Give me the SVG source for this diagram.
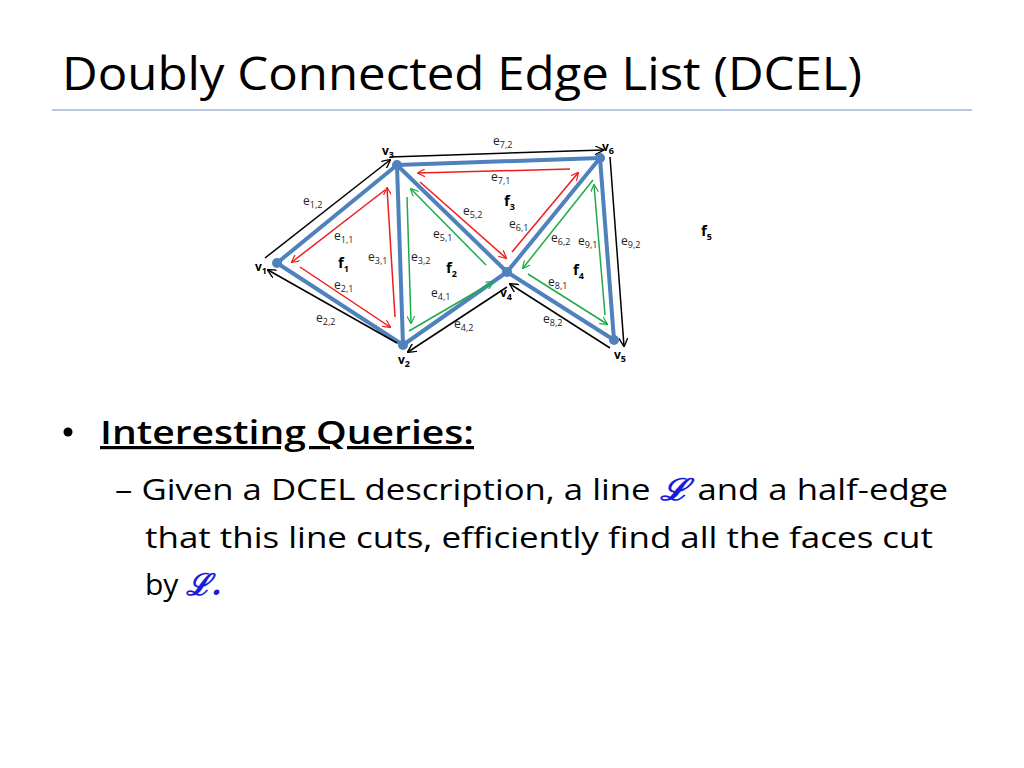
<svg xmlns="http://www.w3.org/2000/svg" width="1024" height="768" viewBox="0 0 1024 768">
<style>
.t{font-family:"Open Sans","Liberation Sans",sans-serif;fill:#000}
.e{font-family:"Open Sans","Liberation Sans",sans-serif;font-size:12px;fill:#222}
.s{font-size:9px}
.f{font-family:"Open Sans","Liberation Sans",sans-serif;font-size:15px;font-weight:bold}
.v{font-family:"Open Sans","Liberation Sans",sans-serif;font-size:12px;font-weight:bold}
.b{stroke:#4f81bd;stroke-width:4;fill:none}
.r{stroke:#ee1c1c;stroke-width:1.5;fill:none;marker-end:url(#ar)}
.g{stroke:#1faa4a;stroke-width:1.5;fill:none;marker-end:url(#ag)}
.k{stroke:#000;stroke-width:1.5;fill:none;marker-end:url(#ak)}
.L{font-family:"DejaVu Serif",serif;font-style:italic;font-weight:bold;fill:#1a1adf}
</style>
<defs>
<marker id="ar" viewBox="0 0 10 10" refX="9" refY="5" markerWidth="8" markerHeight="8" orient="auto" markerUnits="userSpaceOnUse"><path d="M0,0 L10,5 L0,10" fill="none" stroke="#ee1c1c" stroke-width="1.5"/></marker>
<marker id="ag" viewBox="0 0 10 10" refX="9" refY="5" markerWidth="8" markerHeight="8" orient="auto" markerUnits="userSpaceOnUse"><path d="M0,0 L10,5 L0,10" fill="none" stroke="#1faa4a" stroke-width="1.5"/></marker>
<marker id="ak" viewBox="0 0 10 10" refX="9" refY="5" markerWidth="9" markerHeight="9" orient="auto" markerUnits="userSpaceOnUse"><path d="M0,0 L10,5 L0,10" fill="none" stroke="#000" stroke-width="1.5"/></marker>
</defs>
<rect width="1024" height="768" fill="#fff"/>
<text class="t" x="62" y="90" font-size="45" textLength="800" lengthAdjust="spacingAndGlyphs">Doubly Connected Edge List (DCEL)</text>
<line x1="52" y1="110" x2="972" y2="110" stroke="#a3b5d8" stroke-width="1.5"/>
<g id="connectors">
<g id="blue">
<line class="b" x1="277" y1="263" x2="397" y2="165"/>
<line class="b" x1="277" y1="263" x2="403" y2="345"/>
<line class="b" x1="397" y1="165" x2="403" y2="345"/>
<line class="b" x1="397" y1="165" x2="507" y2="272"/>
<line class="b" x1="403" y1="345" x2="507" y2="272"/>
<line class="b" x1="397" y1="165" x2="600" y2="158"/>
<line class="b" x1="507" y1="272" x2="600" y2="158"/>
<line class="b" x1="507" y1="272" x2="614" y2="340"/>
<line class="b" x1="600" y1="158" x2="614" y2="340"/>
</g>
<line class="r" x1="385" y1="190" x2="292" y2="262"/>
<line class="r" x1="300" y1="267" x2="390" y2="327"/>
<line class="r" x1="395" y1="317" x2="387" y2="188"/>
<line class="g" x1="407" y1="197" x2="411" y2="323"/>
<line class="g" x1="409" y1="331" x2="493" y2="282"/>
<line class="g" x1="486" y1="265" x2="411" y2="189"/>
<line class="r" x1="570" y1="169" x2="418" y2="173"/>
<line class="r" x1="420" y1="182" x2="506" y2="258"/>
<line class="r" x1="512" y1="252" x2="578" y2="173"/>
<line class="g" x1="593" y1="180" x2="523" y2="268"/>
<line class="g" x1="528" y1="274" x2="607" y2="324"/>
<line class="g" x1="605" y1="315" x2="594" y2="185"/>
<line class="k" x1="265" y1="258" x2="390" y2="160"/>
<line class="k" x1="390" y1="157" x2="603" y2="150"/>
<line class="k" x1="610" y1="157" x2="624" y2="346"/>
<line class="k" x1="610" y1="348" x2="510" y2="284"/>
<line class="k" x1="507" y1="287" x2="408" y2="352"/>
<line class="k" x1="397" y1="343" x2="268" y2="270"/>
</g>
<g id="v1"><circle cx="277" cy="263" r="5" fill="#4f81bd"/><text class="v" x="255" y="271">v<tspan class="s" dy="3">1</tspan></text></g>
<g id="v2"><circle cx="403" cy="345" r="5" fill="#4f81bd"/><text class="v" x="398" y="364">v<tspan class="s" dy="3">2</tspan></text></g>
<g id="v3"><circle cx="397" cy="165" r="5" fill="#4f81bd"/><text class="v" x="382" y="155">v<tspan class="s" dy="3">3</tspan></text></g>
<g id="v4"><circle cx="507" cy="272" r="5" fill="#4f81bd"/><text class="v" x="500" y="297">v<tspan class="s" dy="3">4</tspan></text></g>
<g id="v5"><circle cx="614" cy="340" r="5" fill="#4f81bd"/><text class="v" x="614" y="359">v<tspan class="s" dy="3">5</tspan></text></g>
<g id="v6"><circle cx="600" cy="158" r="5" fill="#4f81bd"/><text class="v" x="602" y="151">v<tspan class="s" dy="3">6</tspan></text></g>
<g id="labels">
<text class="e" x="303" y="205">e<tspan class="s" dy="3">1,2</tspan></text>
<text class="e" x="334" y="240">e<tspan class="s" dy="3">1,1</tspan></text>
<text class="e" x="368" y="261">e<tspan class="s" dy="3">3,1</tspan></text>
<text class="e" x="411" y="261">e<tspan class="s" dy="3">3,2</tspan></text>
<text class="e" x="334" y="289">e<tspan class="s" dy="3">2,1</tspan></text>
<text class="e" x="316" y="322">e<tspan class="s" dy="3">2,2</tspan></text>
<text class="e" x="433" y="238">e<tspan class="s" dy="3">5,1</tspan></text>
<text class="e" x="463" y="215">e<tspan class="s" dy="3">5,2</tspan></text>
<text class="e" x="431" y="297">e<tspan class="s" dy="3">4,1</tspan></text>
<text class="e" x="454" y="328">e<tspan class="s" dy="3">4,2</tspan></text>
<text class="e" x="493" y="145">e<tspan class="s" dy="3">7,2</tspan></text>
<text class="e" x="491" y="181">e<tspan class="s" dy="3">7,1</tspan></text>
<text class="e" x="509" y="228">e<tspan class="s" dy="3">6,1</tspan></text>
<text class="e" x="551" y="242">e<tspan class="s" dy="3">6,2</tspan></text>
<text class="e" x="578" y="245">e<tspan class="s" dy="3">9,1</tspan></text>
<text class="e" x="621" y="245">e<tspan class="s" dy="3">9,2</tspan></text>
<text class="e" x="548" y="286">e<tspan class="s" dy="3">8,1</tspan></text>
<text class="e" x="543" y="323">e<tspan class="s" dy="3">8,2</tspan></text>
<text class="f" x="338" y="268">f<tspan class="s" dy="4" font-size="10">1</tspan></text>
<text class="f" x="446" y="273">f<tspan class="s" dy="4" font-size="10">2</tspan></text>
<text class="f" x="504" y="206">f<tspan class="s" dy="4" font-size="10">3</tspan></text>
<text class="f" x="573" y="275">f<tspan class="s" dy="4" font-size="10">4</tspan></text>
<text class="f" x="701" y="236">f<tspan class="s" dy="4" font-size="10">5</tspan></text>
</g>
<circle cx="68" cy="432" r="4.5" fill="#000"/>
<text class="t" x="100" y="444" font-size="32" font-weight="600" text-decoration="underline" textLength="374" lengthAdjust="spacingAndGlyphs">Interesting Queries:</text>
<text class="t" x="115" y="500" font-size="30" textLength="833" lengthAdjust="spacingAndGlyphs">– Given a DCEL description, a line <tspan class="L">ℒ</tspan> and a half-edge</text>
<text class="t" x="145" y="548" font-size="30" textLength="788" lengthAdjust="spacingAndGlyphs">that this line cuts, efficiently find all the faces cut</text>
<text class="t" x="145" y="595" font-size="30">by <tspan class="L">ℒ.</tspan></text>
</svg>
